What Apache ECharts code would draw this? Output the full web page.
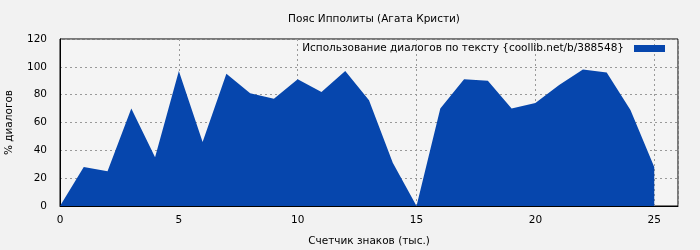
<!DOCTYPE html>
<html>
<head>
<meta charset="utf-8">
<script src="https://cdn.jsdelivr.net/npm/echarts@6/dist/echarts.min.js"></script>
<style>
html,body{margin:0;padding:0;background:#f2f2f2;}
#c{width:700px;height:250px;}
</style>
</head>
<body>
<div id="c"></div>
<script>
var titleText = 'Пояс Ипполиты (Агата Кристи)';
var seriesName = 'Использование диалогов по тексту {coollib.net/b/388548}';
var xName = 'Счетчик знаков (тыс.)';
var yName = '% диалогов';
var xValues = [0,1,2,3,4,5,6,7,8,9,10,11,12,13,14,15,16,17,18,19,20,21,22,23,24,25];
var yValues = [0,28,25,70,35,97,46,95,81,77,91,82,97,76,31,0,70,91,90,70,74,87,98,96,69,28];

var data = xValues.map(function(x,i){return [x,yValues[i]];});
var font = 'DejaVu Sans';
var fs = 10.5;
var chart = echarts.init(document.getElementById('c'), null, {renderer:'canvas'});
chart.setOption({
  backgroundColor:'#f2f2f2',
  animation:false,
  title:{text:titleText,left:369,top:9,textAlign:'center',textStyle:{fontFamily:font,fontSize:fs,fontWeight:'normal',color:'#000'}},
  legend:{show:true,right:30,top:38,align:'right',itemWidth:31,itemHeight:7,itemGap:0,icon:'rect',
    textStyle:{fontFamily:font,fontSize:fs,color:'#000',padding:[0,5,0,0]},data:[seriesName]},
  grid:{left:60,right:22,top:39,bottom:44,show:true,backgroundColor:'#f4f4f4',borderColor:'#000',borderWidth:1,
    containLabel:false,outerBoundsMode:'none'},
  xAxis:{type:'value',min:0,max:26,interval:5,name:xName,nameLocation:'middle',nameGap:30,
    nameTextStyle:{fontFamily:font,fontSize:fs,color:'#000'},
    axisLine:{show:true,lineStyle:{color:'#000',width:1}},axisTick:{show:false},
    axisLabel:{fontFamily:font,fontSize:fs,color:'#000',margin:9,showMaxLabel:false},
    splitLine:{show:true,lineStyle:{color:'#999',type:[2,3],width:1}}},
  yAxis:{type:'value',min:0,max:120,interval:20,name:yName,nameLocation:'middle',nameGap:45,
    nameTextStyle:{fontFamily:font,fontSize:fs,color:'#000'},
    axisLine:{show:true,lineStyle:{color:'#000',width:1}},axisTick:{show:false},
    axisLabel:{fontFamily:font,fontSize:fs,color:'#000',margin:13},
    splitLine:{show:true,lineStyle:{color:'#999',type:[2,3],width:1}}},
  series:[{name:seriesName,type:'line',data:data,symbol:'none',smooth:false,
    lineStyle:{width:0,color:'#0646ad'},itemStyle:{color:'#0646ad'},
    areaStyle:{color:'#0646ad',opacity:1}}]
});
</script>
</body>
</html>
